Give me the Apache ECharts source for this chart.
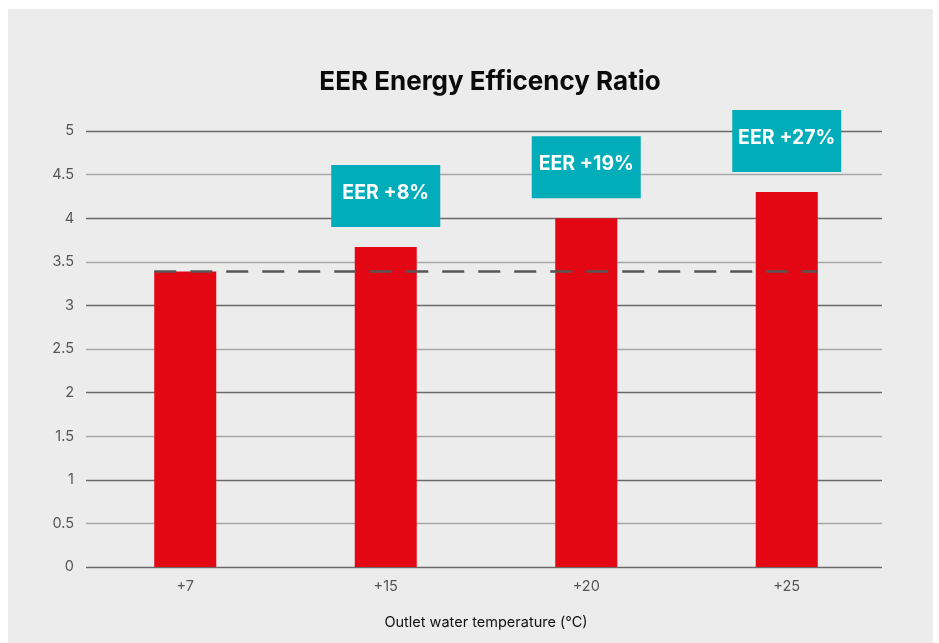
<!DOCTYPE html>
<html>
  <head>
    <meta charset="utf-8">
    <title>EER Energy Efficency Ratio</title>
    <script src="https://cdn.jsdelivr.net/npm/echarts@6/dist/echarts.min.js"></script>
    <style>
      body{ margin: 0; background: #ffffff; }
      .panel{ position: absolute; left: 8px; top: 9px; width: 925px; height: 634px; background: #ececec; }
      #main{ position: absolute; left: 0; top: 0; width: 939px; height: 643px; }
    </style>
  </head>
  <body>
    <div class="panel"></div>
    <div id="main"></div>
    <script type="text/javascript">
      // data
      var temps = ['+7', '+15', '+20', '+25'];
      var eer = [3.39, 3.67, 4.0, 4.3];
      var gains = ['', 'EER +8%', 'EER +19%', 'EER +27%'];
      var baseline = 3.39;
      var yTicks = [0, 0.5, 1, 1.5, 2, 2.5, 3, 3.5, 4, 4.5, 5];

      // bars sit in a slightly wider grid than the gridlines
      var barLeft = 85, barRight = 52;
      var barW = 62;
      var catW = (939 - barLeft - barRight) / temps.length;
      var half = barW / catW / 2;

      var barData = [];
      for (var i = 0; i < eer.length; i++) {
        barData.push({
          value: eer[i],
          label: { show: gains[i] !== '', formatter: gains[i] }
        });
      }

      var yMin = yTicks[0], yMax = yTicks[yTicks.length - 1];
      var myChart = echarts.init(document.getElementById('main'));
      var option = {
        backgroundColor: 'transparent',
        animation: false,
        title: {
          text: 'EER Energy Efficency Ratio',
          left: 485,
          top: 64,
          textAlign: 'center',
          textStyle: { fontFamily: 'Inter', fontWeight: 'bold', fontSize: 26, color: '#0a0a0a' }
        },
        grid: [
          { left: 86, right: 57, top: 131, bottom: 76 },
          { left: barLeft, right: barRight, top: 131, bottom: 76 }
        ],
        xAxis: [
          { type: 'category', gridIndex: 0, data: temps, show: false },
          {
            type: 'category',
            gridIndex: 1,
            data: temps,
            axisLine: { show: false },
            axisTick: { show: false },
            axisLabel: { color: '#555', fontSize: 14.5, fontFamily: 'Inter', margin: 12 },
            name: 'Outlet water temperature (°C)',
            nameLocation: 'middle',
            nameGap: 48,
            nameTextStyle: { color: '#111', fontSize: 14.5, fontFamily: 'Inter' }
          },
          { type: 'value', gridIndex: 1, min: 0, max: temps.length, show: false }
        ],
        yAxis: [
          {
            type: 'value',
            gridIndex: 0,
            min: yMin,
            max: yMax,
            interval: 0.5,
            axisLine: { show: false },
            axisTick: { show: false },
            axisLabel: { color: '#555', fontSize: 14.5, fontFamily: 'Inter', margin: 12 },
            splitLine: { lineStyle: { color: ['#6a6a6a', '#a6a6a6'], width: 1.3 } }
          },
          { type: 'value', gridIndex: 1, min: yMin, max: yMax, interval: 0.5, show: false }
        ],
        series: [
          {
            type: 'bar',
            xAxisIndex: 1,
            yAxisIndex: 1,
            data: barData,
            barWidth: barW,
            itemStyle: { color: '#e30613' },
            label: {
              position: 'top',
              distance: 20,
              backgroundColor: '#00adb9',
              color: '#ffffff',
              fontFamily: 'Inter',
              fontWeight: 'bold',
              fontSize: 19.5,
              width: 109,
              lineHeight: 20,
              padding: [18, 0, 24, 0],
              align: 'center'
            }
          },
          {
            type: 'line',
            xAxisIndex: 2,
            yAxisIndex: 1,
            data: [[0.5 - half, baseline], [temps.length - 0.5 + half, baseline]],
            symbol: 'none',
            z: 5,
            lineStyle: { color: '#555', width: 2.5, type: [22, 14] }
          }
        ]
      };
      myChart.setOption(option);
    </script>
  </body>
</html>
